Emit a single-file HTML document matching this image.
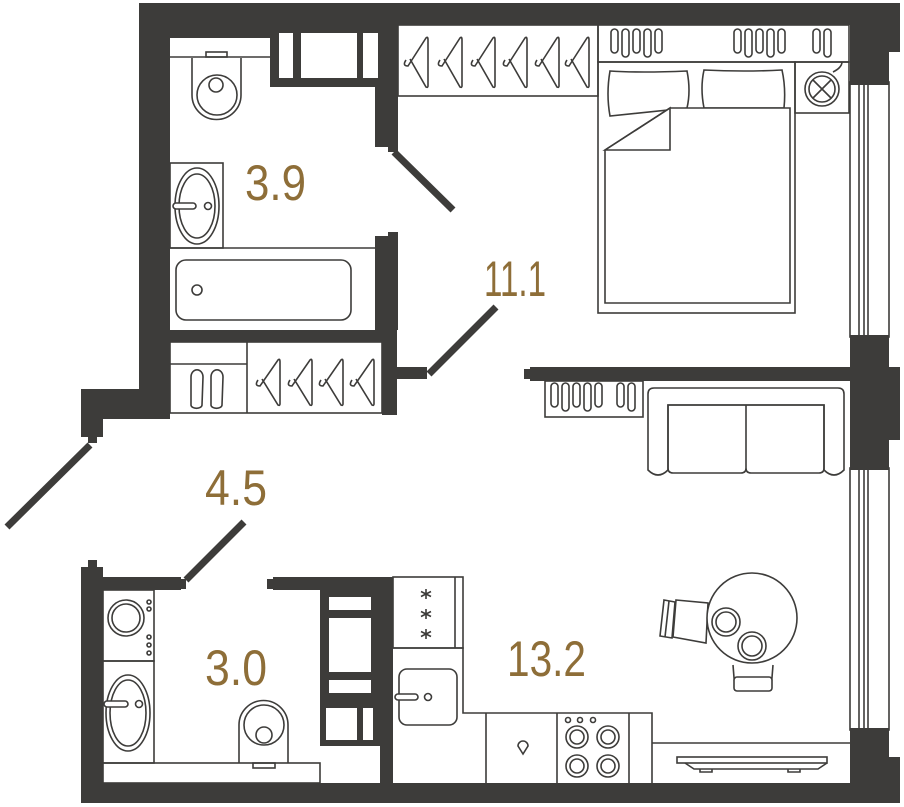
<!DOCTYPE html>
<html><head><meta charset="utf-8"><style>
html,body{margin:0;padding:0;background:#fff;}
svg{display:block;}
.w{fill:#3d3c3a;}
.l{fill:none;stroke:#3d3c3a;stroke-width:1.6;}
.lw{fill:#fff;stroke:#3d3c3a;stroke-width:1.6;}
.t{font-family:"Liberation Sans",sans-serif;fill:#8e6e38;font-size:50px;}
</style></head><body>
<svg width="904" height="807" viewBox="0 0 904 807" xmlns="http://www.w3.org/2000/svg">
<line class="l" x1="170" y1="57" x2="270" y2="57"/>
<rect class="l" x="206" y="52" width="21" height="5"/>
<path class="l" d="M192,58 L192,95 A24.5,24.5 0 0 0 241,95 L241,58"/>
<circle class="l" cx="217" cy="95" r="20"/>
<circle class="l" cx="216" cy="85" r="7"/>
<rect class="l" x="170" y="163" width="53" height="85"/>
<ellipse class="l" cx="197" cy="206" rx="22" ry="38"/>
<ellipse class="l" cx="197" cy="206" rx="18" ry="32"/>
<rect class="lw" x="173" y="203" width="23" height="6" rx="3"/>
<circle class="l" cx="208" cy="206" r="3.5"/>
<line class="l" x1="170" y1="248" x2="375" y2="248"/>
<rect class="l" x="176" y="260" width="175" height="60" rx="10"/>
<circle class="l" cx="197" cy="290" r="5"/>
<rect class="l" x="170" y="342" width="212" height="71"/>
<line class="l" x1="170" y1="364" x2="247" y2="364"/>
<line class="l" x1="247" y1="342" x2="247" y2="413"/>
<path class="l" d="M191,405 l0,-28 a5,6 0 0 1 12,0 l-1,28 a5,3 0 0 1 -11,0z M211,405 l0,-28 a5,6 0 0 1 12,0 l-1,28 a5,3 0 0 1 -11,0z"/>
<g class="l">
<path d="M258,380 q-4,6 2,6 l18,-26 q2,-2 2,2 l0,42 q0,2 -2,1 l-16,-26" />
<path d="M290,380 q-4,6 2,6 l18,-26 q2,-2 2,2 l0,42 q0,2 -2,1 l-16,-26" />
<path d="M321,380 q-4,6 2,6 l18,-26 q2,-2 2,2 l0,42 q0,2 -2,1 l-16,-26" />
<path d="M352,380 q-4,6 2,6 l18,-26 q2,-2 2,2 l0,42 q0,2 -2,1 l-16,-26" />
</g>
<rect class="l" x="398" y="25" width="200" height="71"/>
<g class="l">
<path d="M406,60 q-4,6 2,6 l18,-28 q2,-2 2,2 l0,46 q0,2 -2,1 l-16,-28"/>
<path d="M440,60 q-4,6 2,6 l18,-28 q2,-2 2,2 l0,46 q0,2 -2,1 l-16,-28"/>
<path d="M473,60 q-4,6 2,6 l18,-28 q2,-2 2,2 l0,46 q0,2 -2,1 l-16,-28"/>
<path d="M505,60 q-4,6 2,6 l18,-28 q2,-2 2,2 l0,46 q0,2 -2,1 l-16,-28"/>
<path d="M537,60 q-4,6 2,6 l18,-28 q2,-2 2,2 l0,46 q0,2 -2,1 l-16,-28"/>
<path d="M567,60 q-4,6 2,6 l18,-28 q2,-2 2,2 l0,46 q0,2 -2,1 l-16,-28"/>
</g>
<rect class="l" x="598" y="25" width="251" height="37"/>
<g class="l">
<rect x="611" y="29" width="7" height="24" rx="3.5"/><rect x="622" y="29" width="7" height="28" rx="3.5"/><rect x="633" y="29" width="7" height="24" rx="3.5"/><rect x="644" y="29" width="7" height="28" rx="3.5"/><rect x="655" y="29" width="7" height="24" rx="3.5"/>
<rect x="734" y="29" width="7" height="24" rx="3.5"/><rect x="745" y="29" width="7" height="28" rx="3.5"/><rect x="756" y="29" width="7" height="24" rx="3.5"/><rect x="767" y="29" width="7" height="28" rx="3.5"/><rect x="778" y="29" width="7" height="24" rx="3.5"/>
<rect x="813" y="29" width="7" height="24" rx="3.5"/><rect x="824" y="29" width="7" height="28" rx="3.5"/>
</g>
<rect class="l" x="795" y="62" width="54" height="51"/>
<circle class="l" cx="822" cy="89" r="17"/><circle class="l" cx="822" cy="89" r="13"/>
<path class="l" d="M813,80 l18,18 M831,80 l-18,18 M833,72 q4,-2 6,-4 q3,-3 3,-6"/>
<rect class="l" x="598" y="62" width="197" height="251"/>
<path class="l" d="M610,71 q30,2 77,0 q4,20 0,37 l-77,8 q-4,-22 0,-45z"/>
<path class="l" d="M704,70 q40,2 78,0 q4,18 2,38 l-80,0 q-4,-20 0,-38z"/>
<path class="lw" d="M605,150 L670,108 L790,108 L790,303 L605,303 Z"/>
<path class="l" d="M605,150 L670,108 L670,150 Z"/>
<rect class="l" x="545" y="381" width="98" height="36"/>
<g class="l">
<rect x="551" y="383" width="7" height="24" rx="3.5"/><rect x="562" y="383" width="7" height="28" rx="3.5"/><rect x="573" y="383" width="7" height="24" rx="3.5"/><rect x="584" y="383" width="7" height="28" rx="3.5"/><rect x="595" y="383" width="7" height="24" rx="3.5"/>
<rect x="617" y="383" width="7" height="24" rx="3.5"/><rect x="628" y="383" width="7" height="28" rx="3.5"/>
</g>
<path class="l" d="M654,388 L838,388 q6,0 6,6 L844,470 q-10,10 -20,0 L824,405 L668,405 L668,470 q-10,10 -20,0 L648,394 q0,-6 6,-6z"/>
<path class="l" d="M668,405 L824,405 L824,468 q0,5 -5,5 L751,473 q-5,0 -5,-5 q0,5 -5,5 L673,473 q-5,0 -5,-5z M746,405 L746,468"/>
<g class="l">
<rect x="850" y="82" width="39" height="255"/>
<line x1="859" y1="82" x2="859" y2="337"/><line x1="864" y1="82" x2="864" y2="337"/><line x1="868" y1="82" x2="868" y2="337"/>
<rect x="850" y="468" width="39" height="262"/>
<line x1="859" y1="468" x2="859" y2="730"/><line x1="864" y1="468" x2="864" y2="730"/><line x1="868" y1="468" x2="868" y2="730"/>
</g>
<path class="lw" d="M733,665 L735,690 L771,690 L773,665"/>
<rect class="lw" x="734" y="677" width="38" height="14" rx="3"/>
<path class="lw" d="M676,600 L708,603 L706,643 L673,637 Z"/>
<path class="lw" d="M664,600 L675,602 L672,638 L660,636 Z"/>
<line class="l" x1="669" y1="601" x2="665" y2="637"/>
<circle class="lw" cx="752" cy="618" r="45"/>
<circle class="l" cx="726" cy="622" r="14"/><circle class="l" cx="726" cy="622" r="10"/>
<circle class="l" cx="752" cy="646" r="14"/><circle class="l" cx="752" cy="646" r="10"/>
<rect class="l" x="393" y="577" width="70" height="71"/>
<line class="l" x1="455" y1="577" x2="455" y2="648"/>
<g stroke="#3d3c3a" stroke-width="1.6">
<path d="M426,589 v10 M421,591.5 l10,5 M431,591.5 l-10,5"/>
<path d="M426,609 v10 M421,611.5 l10,5 M431,611.5 l-10,5"/>
<path d="M426,629 v10 M421,631.5 l10,5 M431,631.5 l-10,5"/>
</g>
<path class="l" d="M393,648 L463,648 L463,713 L652,713 L652,783 M486,713 L486,783 M557,713 L557,783 M629,713 L629,783 M652,743 L850,743"/>
<rect class="l" x="399" y="669" width="58" height="56" rx="8"/>
<rect class="lw" x="395" y="694" width="23" height="6" rx="3"/>
<circle class="l" cx="428" cy="697" r="3.5"/>
<path class="l" d="M523,754 l-5,-8 a5,5 0 1 1 10,0 z"/>
<g class="l">
<circle cx="568" cy="720" r="2.5"/><circle cx="580" cy="720" r="2.5"/><circle cx="593" cy="720" r="2.5"/>
<circle cx="577" cy="737" r="11"/><circle cx="577" cy="737" r="7"/>
<circle cx="608" cy="737" r="11"/><circle cx="608" cy="737" r="7"/>
<circle cx="577" cy="766" r="11"/><circle cx="577" cy="766" r="7"/>
<circle cx="608" cy="766" r="11"/><circle cx="608" cy="766" r="7"/>
</g>
<rect class="l" x="677" y="757" width="150" height="6"/>
<path class="l" d="M685,763 L694,769 L818,769 L827,763 M700,769 l0,3 l12,0 l0,-3 M788,769 l0,3 l12,0 l0,-3"/>
<rect class="l" x="103" y="590" width="51" height="71"/>
<circle class="l" cx="126" cy="618" r="18"/><circle class="l" cx="126" cy="618" r="14"/>
<g class="l"><circle cx="149" cy="602" r="2"/><circle cx="149" cy="609" r="2"/><circle cx="149" cy="637" r="2"/><circle cx="149" cy="645" r="2"/><circle cx="149" cy="653" r="2"/></g>
<rect class="l" x="103" y="661" width="51" height="102"/>
<ellipse class="l" cx="128" cy="713" rx="22" ry="38"/>
<ellipse class="l" cx="128" cy="713" rx="18" ry="33"/>
<rect class="lw" x="104" y="701" width="24" height="6" rx="3"/>
<circle class="l" cx="139" cy="704" r="3.5"/>
<rect class="l" x="103" y="763" width="217" height="20"/>
<path class="l" d="M239,763 L239,725 A24.5,24.5 0 0 1 288,725 L288,763"/>
<circle class="l" cx="264" cy="725" r="20"/>
<circle class="l" cx="264" cy="735" r="8"/>
<rect class="l" x="253" y="763" width="22" height="5"/>
<g class="w">
<rect x="139" y="3" width="761" height="22"/>
<rect x="850" y="3" width="50" height="49"/>
<rect x="850" y="25" width="39" height="60"/>
<rect x="139" y="3" width="31" height="416"/>
<rect x="170" y="25" width="100" height="13"/>
<rect x="270" y="25" width="128" height="62"/>
<rect x="375" y="25" width="23" height="122"/>
<rect x="388" y="140" width="10" height="12"/>
<rect x="375" y="236" width="23" height="94"/>
<rect x="388" y="232" width="10" height="8"/>
<rect x="170" y="330" width="215" height="12"/>
<rect x="382" y="330" width="15" height="85"/>
<rect x="395" y="367" width="32" height="12"/>
<rect x="103" y="389" width="67" height="30"/>
<rect x="81" y="389" width="22" height="48"/>
<rect x="88" y="430" width="9" height="13"/>
<rect x="530" y="367" width="320" height="14"/>
<rect x="524" y="369" width="8" height="10"/>
<rect x="850" y="335" width="39" height="135"/>
<rect x="889" y="367" width="11" height="73"/>
<rect x="81" y="567" width="22" height="236"/>
<rect x="88" y="560" width="9" height="8"/>
<rect x="103" y="577" width="78" height="13"/>
<rect x="180" y="579" width="6" height="10"/>
<rect x="273" y="577" width="120" height="13"/>
<rect x="267" y="579" width="7" height="10"/>
<rect x="380" y="577" width="13" height="206"/>
<rect x="320" y="590" width="60" height="156"/>
<rect x="81" y="783" width="819" height="20"/>
<rect x="850" y="728" width="39" height="55"/>
<rect x="889" y="757" width="11" height="46"/>
</g>
<g fill="#fff">
<rect x="279" y="33" width="14" height="45"/>
<rect x="301" y="33" width="56" height="45"/>
<rect x="363" y="33" width="15" height="45"/>
<rect x="329" y="597" width="42" height="13"/>
<rect x="329" y="618" width="42" height="54"/>
<rect x="329" y="680" width="42" height="13"/>
<rect x="326" y="708" width="31" height="32"/>
<rect x="363" y="708" width="10" height="32"/>
<rect x="326" y="746" width="54" height="37"/>
</g>
<g stroke="#3d3c3a" stroke-width="7" stroke-linecap="butt">
<line x1="394" y1="152" x2="453" y2="210"/>
<line x1="429" y1="374" x2="496" y2="307"/>
<line x1="90" y1="445" x2="7" y2="527"/>
<line x1="186" y1="580" x2="244" y2="522"/>
</g>
<text class="t" x="245" y="200" textLength="61" lengthAdjust="spacingAndGlyphs">3.9</text>
<text class="t" x="484" y="296" textLength="62" lengthAdjust="spacingAndGlyphs">11.1</text>
<text class="t" x="205" y="505" textLength="62" lengthAdjust="spacingAndGlyphs">4.5</text>
<text class="t" x="205" y="685" textLength="62" lengthAdjust="spacingAndGlyphs">3.0</text>
<text class="t" x="507" y="676" textLength="79" lengthAdjust="spacingAndGlyphs">13.2</text>
</svg>
</body></html>
